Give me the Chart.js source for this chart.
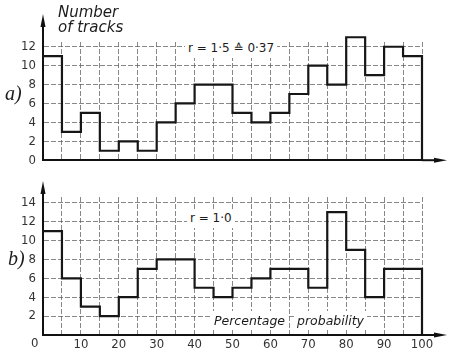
<!DOCTYPE html>
<html>
<head>
<meta charset="utf-8">
<script src="https://cdn.jsdelivr.net/npm/chart.js@4.4.0/dist/chart.umd.min.js"></script>
<style>
  html, body { margin: 0; padding: 0; background: #fff; }
  #wrap { position: relative; width: 449px; height: 353px; overflow: hidden; background: #fff; }
  canvas { position: absolute; left: 0; }
  #chartA { top: 0; }
  #chartB { top: 175px; }
  .lbl { position: absolute; white-space: nowrap; color: #1c1c1c; }
  .title { left: 58px; top: 5px; font: oblique 15px/15px 'DejaVu Sans', sans-serif; }
  .panel { font: italic 20px/20px 'Liberation Serif', serif; }
  .note { font: 12px/19px 'DejaVu Sans', sans-serif; background: #fff; padding: 0 3px; }
  .axisname { font: oblique 12.5px/19px 'DejaVu Sans', sans-serif; background: #fff; padding: 0 3px; }
  .zero { font: 13px/14px 'Liberation Sans Narrow', 'DejaVu Sans Condensed', sans-serif; color: #333; }
</style>
</head>
<body>
<div id="wrap">
  <canvas id="chartA" width="449" height="175"></canvas>
  <canvas id="chartB" width="449" height="178"></canvas>

  <div class="lbl title">Number<br>of tracks</div>
  <div class="lbl panel" style="left:5px; top:83px;">a)</div>
  <div class="lbl panel" style="left:8px; top:248px;">b)</div>
  <div class="lbl note" style="left:185px; top:39px;">r = 1·5 ≙ 0·37</div>
  <div class="lbl note" style="left:187px; top:209px;">r = 1·0</div>
  <div class="lbl axisname" style="left:211px; top:311px;">Percentage</div>
  <div class="lbl axisname" style="left:294px; top:311px;">probability</div>
  <div class="lbl zero" style="left:31px; top:336px;">0</div>
</div>

<script>
// histogram bins (percentage probability), 5 wide
const binStarts = [0, 5, 10, 15, 20, 25, 30, 35, 40, 45, 50, 55, 60, 65, 70, 75, 80, 85, 90, 95];
const binWidth = 5;

// number of tracks per bin
const tracksA = [11, 3, 5, 1, 2, 1, 4, 6, 8, 8, 5, 4, 5, 7, 10, 8, 13, 9, 12, 11];
const tracksB = [11, 6, 3, 2, 4, 7, 8, 8, 5, 4, 5, 6, 7, 7, 5, 13, 9, 4, 7, 7];

// tick labels
const yTicksA = [0, 2, 4, 6, 8, 10, 12];
const yTicksB = [0, 2, 4, 6, 8, 10, 12, 14];
const xTickLabels = [10, 20, 30, 40, 50, 60, 70, 80, 90, 100];

Chart.defaults.font.family = "'Liberation Sans Narrow', 'DejaVu Sans Condensed', sans-serif";
Chart.defaults.font.size = 13;

// step outline of the histogram, closed down to zero at the right edge
function stepPoints(values) {
    const pts = binStarts.map((x, i) => ({ x: x, y: values[i] }));
    const end = binStarts[binStarts.length - 1] + binWidth;
    pts.push({ x: end, y: values[values.length - 1] });
    pts.push({ x: end, y: 0 });
    return pts;
}

// axis arrows sticking out past the grid
const axisArrows = {
    id: 'axisArrows',
    afterDraw(chart, args, opts) {
        const ctx = chart.ctx;
        const area = chart.chartArea;
        const x0 = chart.scales.x.getPixelForValue(0);
        const y0 = chart.scales.y.getPixelForValue(0);
        ctx.save();
        ctx.strokeStyle = '#111';
        ctx.fillStyle = '#111';
        ctx.lineWidth = 2;
        // up arrow
        ctx.beginPath();
        ctx.moveTo(x0, area.top);
        ctx.lineTo(x0, opts.yTip + 8);
        ctx.stroke();
        ctx.beginPath();
        ctx.moveTo(x0, opts.yTip);
        ctx.lineTo(x0 - 2.5, opts.yTip + 13);
        ctx.lineTo(x0 + 2.5, opts.yTip + 13);
        ctx.closePath();
        ctx.fill();
        // right arrow
        ctx.beginPath();
        ctx.moveTo(area.right, y0);
        ctx.lineTo(opts.xTip - 8, y0);
        ctx.stroke();
        ctx.beginPath();
        ctx.moveTo(opts.xTip, y0);
        ctx.lineTo(opts.xTip - 13, y0 - 2.5);
        ctx.lineTo(opts.xTip - 13, y0 + 2.5);
        ctx.closePath();
        ctx.fill();
        ctx.restore();
    }
};

const gridOpts = { color: 'rgba(85,85,85,0.7)', lineWidth: 1, drawTicks: false };
const borderOpts = { display: true, color: '#111', width: 2, dash: [5, 2] };
const xGridTicks = binStarts.concat([binStarts[binStarts.length - 1] + binWidth]);

function makeChart(id, values, yTicks, yMax, padTop, xHeight, showX, yTip) {
    return new Chart(document.getElementById(id), {
        type: 'line',
        data: {
            datasets: [{
                data: stepPoints(values),
                stepped: 'before',
                borderColor: '#161616',
                borderWidth: 2.2,
                pointRadius: 0,
                fill: false,
                clip: false
            }]
        },
        options: {
            responsive: false,
            animation: false,
            layout: { padding: { top: padTop, right: 27, left: 0, bottom: 0 } },
            plugins: {
                legend: { display: false },
                tooltip: { enabled: false },
                axisArrows: { yTip: yTip, xTip: 447 }
            },
            scales: {
                x: {
                    type: 'linear',
                    min: 0,
                    max: 100,
                    afterBuildTicks: s => { s.ticks = xGridTicks.map(v => ({ value: v })); },
                    afterFit: s => { s.height = xHeight; },
                    ticks: {
                        display: showX,
                        autoSkip: false,
                        maxRotation: 0,
                        padding: 2,
                        color: '#333',
                        callback: v => (xTickLabels.includes(v) ? String(v) : '')
                    },
                    grid: gridOpts,
                    border: borderOpts
                },
                y: {
                    min: 0,
                    max: yMax,
                    afterBuildTicks: s => { s.ticks = yTicks.map(v => ({ value: v })); },
                    afterFit: s => { s.width = 43; },
                    ticks: {
                        padding: 7,
                        color: '#333',
                        callback: v => (showX && v === 0 ? '' : String(v))
                    },
                    grid: gridOpts,
                    border: borderOpts
                }
            }
        },
        plugins: [axisArrows]
    });
}

makeChart('chartA', tracksA, yTicksA, 12.5, 42, 12, false, 14);
makeChart('chartB', tracksB, yTicksB, 14.6, 22, 18, true, 6);
</script>
</body>
</html>
